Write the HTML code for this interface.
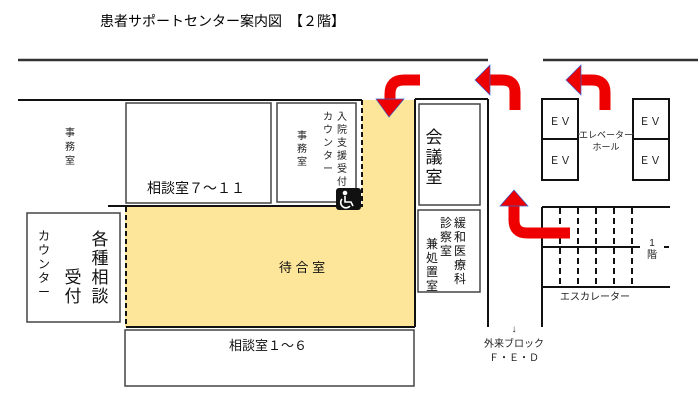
<!DOCTYPE html>
<html><head><meta charset="utf-8"><style>
html,body{margin:0;padding:0;background:#fff;}
svg{display:block;font-family:"Liberation Sans","Noto Sans CJK JP",sans-serif;}
</style></head><body>
<svg width="700" height="404" viewBox="0 0 700 404" xmlns="http://www.w3.org/2000/svg">
<text x="100" y="26" font-size="14" fill="#000">患者サポートセンター案内図　【２階】</text>
<g stroke="#333" stroke-width="2.5" fill="none">
<line x1="18" y1="60" x2="488" y2="60"/>
<line x1="543" y1="60" x2="698" y2="60"/>
</g>
<polygon points="362,100 415,100 415,327 125,327 125,207 362,207" fill="#fde59a"/>
<g stroke="#111" stroke-width="2" fill="none">
<line x1="18" y1="100" x2="362" y2="100"/>
<line x1="108" y1="206" x2="362" y2="206"/>
<line x1="362" y1="100" x2="362" y2="207" stroke-dasharray="5,3"/>
<line x1="126" y1="207" x2="126" y2="327" stroke-dasharray="5,3"/>
<line x1="126" y1="327" x2="415" y2="327"/>
<line x1="415" y1="99" x2="415" y2="327"/>
<line x1="415" y1="99" x2="488" y2="99"/>
<line x1="488" y1="99" x2="488" y2="327"/>
<line x1="542" y1="207" x2="542" y2="327"/>
<line x1="542" y1="207" x2="670" y2="207"/>
<line x1="542" y1="247" x2="640" y2="247"/>
<line x1="542" y1="287" x2="670" y2="287"/>
<g stroke-dasharray="6,4"><line x1="560" y1="208" x2="560" y2="287"/><line x1="578" y1="208" x2="578" y2="287"/><line x1="596" y1="208" x2="596" y2="287"/><line x1="614" y1="208" x2="614" y2="287"/><line x1="632" y1="208" x2="632" y2="287"/></g>
<line x1="664" y1="247" x2="669" y2="247"/>
</g>
<g stroke="#444" stroke-width="1.5" fill="#fff">
<rect x="126" y="103" width="145" height="100"/>
<rect x="277" y="103" width="79" height="99"/>
<rect x="27" y="213" width="93" height="109"/>
<rect x="125" y="330" width="289" height="56"/>
<rect x="419" y="104" width="61" height="101"/>
<rect x="418" y="210" width="62" height="82"/>
</g>
<g stroke="#111" stroke-width="2" fill="#fff">
<rect x="542" y="99" width="36" height="81"/><line x1="542" y1="139" x2="578" y2="139"/>
<rect x="633" y="99" width="36" height="81"/><line x1="633" y1="139" x2="669" y2="139"/>
</g>
<line x1="578" y1="134" x2="633" y2="134" stroke="#555" stroke-width="1"/>
<rect x="580" y="127" width="52" height="24" fill="#fff"/>
<rect x="336" y="188" width="25" height="22" rx="3" fill="#111"/>
<g fill="none" stroke="#fff" stroke-width="1.6">
<circle cx="345" cy="193" r="1.5" fill="#fff"/>
<path d="M345,196 L345,202 L351,202 L353,206"/>
<path d="M342,199 A5,5 0 1 0 350,206"/>
</g>
<g font-size="10" fill="#222" text-anchor="middle">
<text x="70" y="136">事</text><text x="70" y="150">務</text><text x="70" y="164">室</text>
<text x="302" y="139">事</text><text x="302" y="152">務</text><text x="302" y="165">室</text>
<text x="342" y="120">入</text><text x="342" y="133">院</text><text x="342" y="146">支</text><text x="342" y="159">援</text><text x="342" y="172">受</text><text x="342" y="185">付</text>
<text x="328" y="120">カ</text><text x="328" y="133">ウ</text><text x="328" y="146">ン</text><text x="328" y="159">タ</text><text x="328" y="172">ー</text>
<text x="560" y="125" font-size="11">ＥＶ</text><text x="560" y="164" font-size="11">ＥＶ</text>
<text x="650" y="125" font-size="11">ＥＶ</text><text x="650" y="164" font-size="11">ＥＶ</text>
<text x="606" y="138" font-size="9">エレベーター</text><text x="606" y="150" font-size="9">ホール</text>
<text x="652" y="246">1</text><text x="652" y="258">階</text>
<text x="595" y="300">エスカレーター</text>
<text x="514" y="332">↓</text>
<text x="514" y="347">外来ブロック</text>
<text x="514" y="361">Ｆ・Ｅ・Ｄ</text>
</g>
<text x="196" y="193" font-size="14" text-anchor="middle" fill="#111">相談室７～１１</text>
<text x="302" y="272" font-size="13" text-anchor="middle" fill="#111">待 合 室</text>
<text x="268" y="350" font-size="13" text-anchor="middle" fill="#111">相談室１～６</text>
<g font-size="17" fill="#111" text-anchor="middle">
<text x="100" y="245">各</text><text x="100" y="264">種</text><text x="100" y="283">相</text><text x="100" y="302">談</text>
<text x="73" y="283">受</text><text x="73" y="302">付</text>
<text x="434" y="143">会</text><text x="434" y="163">議</text><text x="434" y="183">室</text>
</g>
<g font-size="12" fill="#111" text-anchor="middle">
<text x="44" y="240">カ</text><text x="44" y="254">ウ</text><text x="44" y="268">ン</text><text x="44" y="282">タ</text><text x="44" y="296">ー</text>
<text x="460" y="227">緩</text><text x="460" y="241">和</text><text x="460" y="255">医</text><text x="460" y="269">療</text><text x="460" y="283">科</text>
<text x="446" y="227">診</text><text x="446" y="241">察</text><text x="446" y="255">室</text>
<text x="432" y="248">兼</text><text x="432" y="262">処</text><text x="432" y="276">置</text><text x="432" y="290">室</text>
</g>
<g stroke="#e00" stroke-width="11" fill="none">
<path d="M420,80 L404,80 Q390,80 390,94 L390,100"/>
<path d="M515,110 L515,92 Q515,80 502,80 L489,80"/>
<path d="M605,110 L605,92 Q605,80 592,80 L580,80"/>
<path d="M570,233 L527,233 Q514,233 514,220 L514,205"/>
</g>
<g fill="#e00" stroke="#3a5fcd" stroke-width="0.7">
<polygon points="376,99 404,99 389,117"/>
<polygon points="490,65 490,95 475,80"/>
<polygon points="581,65 581,95 566,80"/>
<polygon points="500,206 528,206 514,190"/>
</g>
</svg>
</body></html>
